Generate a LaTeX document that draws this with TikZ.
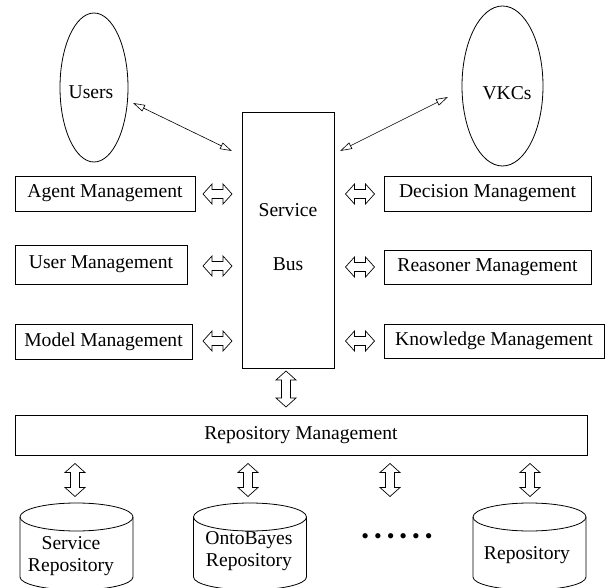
\documentclass[tikz,border=0pt]{standalone}
\usepackage{fontspec}
\setmainfont{Liberation Serif}
\usetikzlibrary{arrows.meta,shapes.geometric,calc}
\begin{document}
\begin{tikzpicture}[x=1pt,y=-1pt,line width=0.8pt,
  font=\fontsize{19.6}{22}\selectfont,
  box/.style={draw,rectangle,inner sep=0pt},
  oval/.style={draw,ellipse,inner sep=0pt},
  plain/.style={inner sep=0pt,align=center},
  thinarr/.style={line width=0.6pt,
    {Triangle[open,length=12pt,width=7pt]}-{Triangle[open,length=12pt,width=7pt]}},
  pics/blk/.style={code={%
    \draw[fill=white,line width=0.7pt,line join=miter]
      (-#1,0) -- (-#1+9,-10) -- (-#1+9,-4.5) -- (#1-9,-4.5) -- (#1-9,-10)
      -- (#1,0) -- (#1-9,10) -- (#1-9,4.5) -- (-#1+9,4.5) -- (-#1+9,10) -- cycle;}}]
\useasboundingbox (0,0) rectangle (608,588);
\clip (0,0) rectangle (608,588);

% ellipses
\node[oval,minimum width=68pt,minimum height=149pt] (users) at (94,87.5) {};
\node[plain] (userst) at (91,92) {Users};
\node[oval,minimum width=81pt,minimum height=160pt] (vkcs) at (502.5,86) {};
\node[plain] (vkcst) at (507,93) {VKCs};

% service bus
\node[box,minimum width=92pt,minimum height=256pt] (bus) at (288,240) {};
\node[plain] (bust1) at (288,210) {Service};
\node[plain] (bust2) at (288,264) {Bus};

% left boxes
\node[box,minimum width=180pt,minimum height=35pt] (agent) at (105,193.5) {Agent Management};
\node[box,minimum width=172pt,minimum height=39pt] (user) at (101,264.5) {User Management};
\node[box,minimum width=177pt,minimum height=35pt] (model) at (103.5,341.5) {Model Management};

% right boxes
\node[box,minimum width=207pt,minimum height=35pt] (decision) at (487.5,193.5) {Decision Management};
\node[box,minimum width=207pt,minimum height=34pt] (reasoner) at (487.5,267) {Reasoner Management};
\node[box,minimum width=220pt,minimum height=34pt] (knowledge) at (494,341) {Knowledge Management};

% repository management
\node[box,minimum width=572pt,minimum height=40pt] (repo) at (301,435) {Repository Management};

% thin arrows
\coordinate (ua) at (133,103);
\coordinate (ub) at (232,151);
\coordinate (va) at (448,97);
\coordinate (vb) at (340,151);
\draw[thinarr] (ua) -- (ub);
\draw[thinarr] (va) -- (vb);

% block arrows between boxes and bus
\pic at (217.5,194) {blk=14.5};
\pic at (217.5,266) {blk=14.5};
\pic at (217.5,341) {blk=14.5};
\pic at (360,194) {blk=14.5};
\pic at (360,267) {blk=14.5};
\pic at (360,341) {blk=14.5};
\pic[rotate=90] at (286,389) {blk=18};
\pic[rotate=90] at (75,480) {blk=16.5};
\pic[rotate=90] at (248,480) {blk=16.5};
\pic[rotate=90] at (390,480) {blk=16.5};
\pic[rotate=90] at (530,480) {blk=16.5};

% cylinders
\foreach \cx/\nm in {76.5/cyl1,250/cyl2,529.5/cyl3}{
  \coordinate (\nm) at (\cx,503);
  \draw (\cx,517) ellipse[x radius=56.5,y radius=14];
  \draw (\cx-56.5,517) -- (\cx-56.5,577)
        arc[start angle=180,end angle=0,x radius=56.5,y radius=13]
        -- (\cx+56.5,517);
}
\node[plain] (cyl1t) at (71,556) {Service\\Repository};
\node[plain] (cyl2t) at (249,551) {OntoBayes\\Repository};
\node[plain] (cyl3t) at (527,555) {Repository};
\node[plain] (dots) at (397,539) {\fontsize{22}{22}\selectfont •\kern5pt•\kern5pt•\kern5pt•\kern5pt•\kern5pt•};
\end{tikzpicture}
\end{document}
